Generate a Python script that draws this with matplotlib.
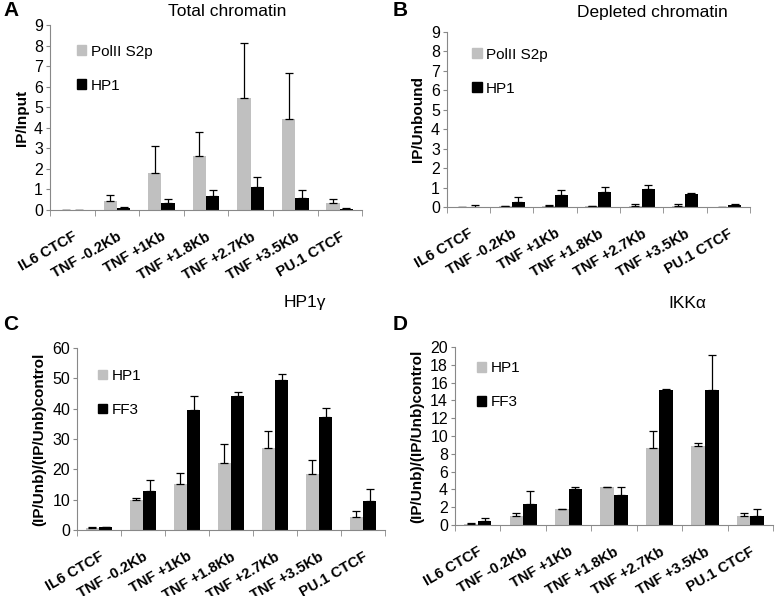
import matplotlib
matplotlib.use("Agg")
import numpy as np
import matplotlib.pyplot as plt
from matplotlib.patches import Patch

plt.rcParams['font.family'] = ['Liberation Sans', 'DejaVu Sans']

categories = ["IL6 CTCF", "TNF -0.2Kb", "TNF +1Kb", "TNF +1.8Kb",
              "TNF +2.7Kb", "TNF +3.5Kb", "PU.1 CTCF"]

# panel A - total chromatin (IP/Input)
a_pol = [0.02, 0.42, 1.80, 2.62, 5.45, 4.42, 0.32]
a_pol_err = [0.0, 0.30, 1.30, 1.16, 2.67, 2.23, 0.20]
a_hp1 = [0.01, 0.08, 0.35, 0.70, 1.12, 0.57, 0.06]
a_hp1_err = [0.0, 0.07, 0.20, 0.25, 0.50, 0.38, 0.02]

# panel B - depleted chromatin (IP/Unbound)
b_pol = [0.01, 0.04, 0.05, 0.05, 0.07, 0.07, 0.02]
b_pol_err = [0.0, 0.0, 0.03, 0.02, 0.06, 0.06, 0.0]
b_hp1 = [0.02, 0.28, 0.62, 0.78, 0.92, 0.65, 0.12]
b_hp1_err = [0.09, 0.22, 0.23, 0.24, 0.20, 0.07, 0.01]

# panel C - HP1gamma
c_hp1 = [0.8, 9.8, 15.3, 22.0, 27.2, 18.5, 4.3]
c_hp1_err = [0.2, 0.7, 3.4, 6.3, 5.4, 4.5, 2.1]
c_ff3 = [0.9, 13.0, 39.5, 44.2, 49.5, 37.3, 9.6]
c_ff3_err = [0.1, 3.6, 4.7, 1.3, 2.0, 2.9, 3.8]

# panel D - IKKalpha
d_hp1 = [0.1, 1.0, 1.75, 4.25, 8.6, 8.9, 1.0]
d_hp1_err = [0.15, 0.4, 0.05, 0.05, 2.0, 0.3, 0.4]
d_ff3 = [0.45, 2.4, 4.05, 3.4, 15.2, 15.2, 1.0]
d_ff3_err = [0.3, 1.4, 0.2, 0.85, 0.1, 3.9, 0.85]

GRAY = "#c0c0c0"
BLACK = "#000000"

fig = plt.figure(figsize=(7.77, 5.96), dpi=100)


def panel(rect, s1, e1, s2, e2, names, ymax, ystep, ylabel, leg_xy):
    ax = fig.add_axes(rect)
    x = np.arange(len(categories))
    w = 0.3
    ekw = dict(ecolor="black", elinewidth=0.9, capsize=3, capthick=0.9)
    ax.bar(x - w / 2, s1, w, color=GRAY, yerr=[np.zeros(len(e1)), e1], error_kw=ekw, zorder=2)
    ax.bar(x + w / 2, s2, w, color=BLACK, yerr=[np.zeros(len(e2)), e2], error_kw=ekw, zorder=2)
    ax.set_xlim(-0.5, len(categories) - 0.5)
    ax.set_ylim(0, ymax)
    ax.set_yticks(np.arange(0, ymax + 0.01, ystep))
    ax.tick_params(axis='y', labelsize=11.5, length=3, color="#888888", pad=2)
    ax.set_xticks(x)
    ax.set_xticklabels(categories, rotation=30, ha='right', rotation_mode='anchor',
                       fontsize=10.5, fontweight='bold')
    ax.tick_params(axis='x', length=0, pad=14)
    ax.set_xticks(np.arange(-0.5, len(categories), 1), minor=True)
    ax.tick_params(axis='x', which='minor', length=4, color="#888888")
    for s in ['top', 'right']:
        ax.spines[s].set_visible(False)
    for s in ['left', 'bottom']:
        ax.spines[s].set_color("#888888")
        ax.spines[s].set_linewidth(0.8)
    ax.set_ylabel(ylabel, fontsize=11, fontweight='bold', labelpad=4)
    handles = [Patch(color=GRAY, label=names[0]), Patch(color=BLACK, label=names[1])]
    ax.legend(handles=handles, loc='upper left', bbox_to_anchor=leg_xy,
              bbox_transform=fig.transFigure, frameon=False, fontsize=11,
              handlelength=0.6, handleheight=0.6, handletextpad=0.3,
              labelspacing=1.3, borderpad=0, borderaxespad=0)
    return ax


panel([0.0644, 0.6477, 0.4016, 0.3104], a_pol, a_pol_err, a_hp1, a_hp1_err,
      ["PolII S2p", "HP1"], 9, 1, "IP/Input", (0.099, 0.925))
panel([0.575, 0.6527, 0.390, 0.2936], b_pol, b_pol_err, b_hp1, b_hp1_err,
      ["PolII S2p", "HP1"], 9, 1, "IP/Unbound", (0.608, 0.92))
panel([0.0991, 0.1107, 0.3964, 0.3053], c_hp1, c_hp1_err, c_ff3, c_ff3_err,
      ["HP1", "FF3"], 60, 10, "(IP/Unb)/(IP/Unb)control", (0.126, 0.381))
panel([0.5856, 0.119, 0.4093, 0.2988], d_hp1, d_hp1_err, d_ff3, d_ff3_err,
      ["HP1", "FF3"], 20, 2, "(IP/Unb)/(IP/Unb)control", (0.614, 0.394))

# panel titles
fig.text(227 / 777, 1 - 11 / 596, "Total chromatin", fontsize=12.5, ha='center', va='center')
fig.text(652 / 777, 1 - 13 / 596, "Depleted chromatin", fontsize=12.5, ha='center', va='center')
fig.text(305 / 777, 1 - 303 / 596, "HP1γ", fontsize=12.5, ha='center', va='center')
fig.text(687 / 777, 1 - 303 / 596, "IKKα", fontsize=12.5, ha='center', va='center')

# panel letters
for lx, ly, t in [(3, 10, "A"), (393, 10, "B"), (3, 324, "C"), (393, 324, "D")]:
    fig.text(lx / 777, 1 - ly / 596, t, fontsize=15, fontweight='bold', ha='left', va='center')

fig.savefig("out.png", dpi=100)
